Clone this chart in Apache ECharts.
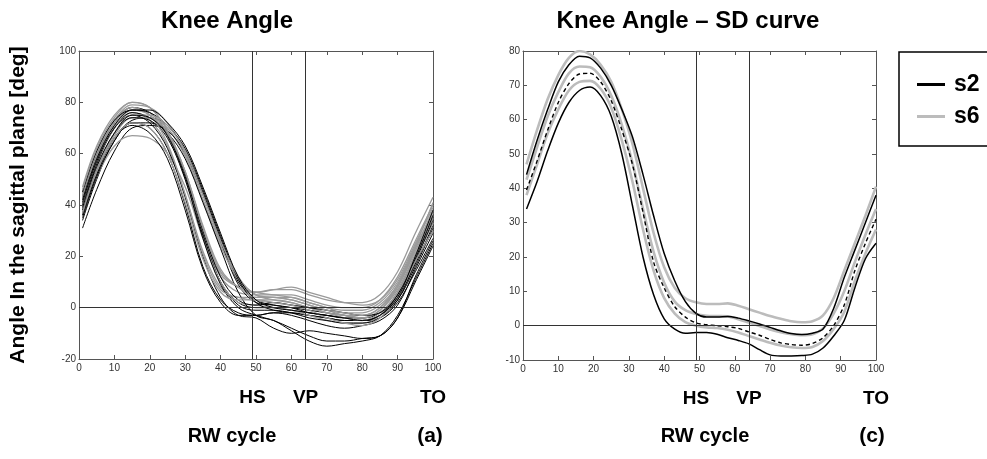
<!DOCTYPE html>
<html>
<head>
<meta charset="utf-8">
<script src="https://cdn.jsdelivr.net/npm/echarts@6/dist/echarts.min.js"></script>
<style>
  html, body { margin: 0; padding: 0; background: #fff; }
  #chart { width: 987px; height: 459px; }
</style>
</head>
<body>
<div id="chart"></div>
<script>
// ---- data ----
// gait events on the RW cycle (%)
const eventLines = [49, 64];
const eventTicks = [49, 64, 100];
const eventNames = ['HS', 'VP', 'TO'];

// (a) single trials, sampled at these cycle points
const xsTrials = [1, 5, 10, 15, 20, 25, 30, 35, 40, 45, 50, 55, 60, 65, 70, 75, 80, 85, 90, 95, 100];

const s2Trials = [
  [34, 50, 65, 72, 70, 60, 40, 16, 3, -2, -3, -2, -2, -3, -4, -5, -5, -3, 5, 18, 30],
  [40, 56, 70, 76, 74, 68, 52, 28, 10, 2, 0, 0, -1, -2, -3, -4, -4, -2, 6, 20, 35],
  [37, 52, 66, 73, 74, 71, 61, 45, 27, 10, 3, 1, 0, -1, -2, -3, -4, -2, 4, 17, 32],
  [43, 59, 72, 78, 76, 68, 52, 29, 10, 1, -1, -1, -2, -3, -4, -5, -5, -3, 3, 16, 31],
  [31, 46, 61, 70, 71, 69, 60, 44, 26, 9, 2, 1, 0, -2, -3, -4, -5, -4, 2, 14, 27],
  [38, 54, 68, 74, 73, 66, 50, 27, 9, 0, -3, -5, -8, -11, -13, -13, -12, -11, -4, 10, 24],
  [35, 51, 65, 72, 72, 68, 58, 41, 23, 6, -3, -5, -9, -13, -15, -14, -13, -11, -3, 11, 25],
  [41, 57, 70, 75, 72, 62, 43, 20, 4, -3, -4, -8, -10, -9, -10, -11, -12, -11, -4, 12, 26],
  [45, 61, 73, 77, 76, 71, 62, 46, 28, 11, 2, -1, -2, -4, -5, -6, -6, -4, 3, 18, 34],
  [39, 55, 68, 75, 74, 67, 51, 30, 12, 3, 1, 2, 1, 0, -1, -2, -3, -2, 5, 19, 36],
  [36, 52, 66, 71, 68, 58, 38, 15, 2, -3, -3, -2, -3, -5, -7, -8, -7, -5, 1, 15, 29],
  [42, 58, 71, 77, 77, 72, 63, 47, 29, 12, 3, 0, -1, -2, -3, -4, -5, -3, 4, 20, 38]
];

const s6Trials = [
  [44, 60, 73, 78, 75, 67, 50, 28, 12, 6, 5, 5, 5, 3, 1, 0, 0, 3, 12, 26, 40],
  [40, 56, 70, 76, 73, 63, 44, 22, 8, 4, 4, 4, 4, 2, 0, -2, -2, 1, 9, 23, 37],
  [47, 63, 75, 80, 78, 69, 53, 31, 14, 8, 6, 7, 7, 5, 3, 2, 2, 5, 14, 29, 43],
  [38, 53, 67, 74, 74, 70, 59, 42, 25, 11, 3, 2, 1, 0, -2, -3, -4, -1, 7, 21, 35],
  [42, 58, 71, 77, 75, 67, 51, 30, 13, 8, 6, 7, 8, 6, 4, 2, 1, 3, 11, 25, 39],
  [36, 51, 63, 67, 66, 60, 47, 27, 10, 2, 1, 0, -1, -3, -5, -6, -6, -3, 6, 19, 33],
  [45, 61, 73, 79, 78, 72, 60, 42, 24, 11, 5, 3, 2, 0, -2, -3, -3, 0, 8, 23, 38],
  [41, 57, 70, 77, 76, 68, 53, 32, 15, 8, 6, 5, 4, 2, 0, -1, -1, 2, 10, 24, 36],
  [43, 59, 72, 78, 75, 64, 44, 21, 7, 4, 3, 3, 2, 0, -2, -4, -5, -2, 6, 20, 33],
  [39, 54, 68, 75, 75, 71, 61, 44, 26, 12, 5, 4, 3, 1, -1, -3, -4, -1, 8, 22, 36],
  [46, 62, 74, 80, 78, 69, 53, 31, 14, 8, 4, 4, 3, 1, -1, -2, -3, 0, 9, 24, 41],
  [37, 53, 66, 72, 70, 60, 41, 19, 6, 3, 3, 2, 1, -1, -4, -6, -7, -4, 4, 18, 30]
];

// (c) mean and +/- SD curves
const xsSD = [1, 4, 7, 10, 13, 16, 19, 22, 25, 28, 31, 34, 37, 40, 43, 46, 49, 52, 55, 58, 61, 64, 67, 70, 73, 76, 79, 82, 85, 88, 91, 94, 97, 100];

const s2Upper = [44, 54, 63, 71, 76, 78.5, 78, 75, 70, 63, 55, 44, 32, 21, 13, 7, 3.6, 2.5, 2.5, 2.7, 2.2, 1.4, 0.5, -0.5, -1.5, -2.3, -2.6, -2.2, -1, 5, 14, 22, 30, 38];
const s2Mean = [39.5, 48, 57, 65, 70.5, 73.3, 73.5, 71, 65.5, 57, 47, 33, 18.5, 11, 5.5, 2.5, 0.8, 0.3, 0, -0.3, -0.8, -1.8, -2.8, -4, -5, -5.5, -5.7, -5.2, -3.5, 0, 6, 16, 24, 31];
const s2Lower = [34, 42, 51, 59, 65, 68.5, 69.5, 67, 61, 50, 35, 20, 9, 2, -1, -2.2, -2, -2, -2.5, -3.5, -4.3, -5.3, -7, -8.5, -8.8, -8.8, -8.7, -8.3, -6.5, -3, 1.5, 11, 19.5, 24];

const s6Upper = [47, 57, 66, 73, 78, 80, 79, 76, 71, 63, 53, 40, 27, 17, 11, 8, 6.8, 6.3, 6.3, 6.5, 5.8, 4.8, 3.8, 2.8, 2, 1.3, 1, 1.3, 3, 8, 16, 24, 32, 40.5];
const s6Mean = [42.5, 52, 61, 68, 73.5, 75.5, 75.3, 72.5, 67, 58.5, 47.5, 34, 21.5, 12.5, 7, 4.5, 3.4, 2.9, 2.8, 2.7, 1.9, 0.9, -0.1, -1.1, -1.9, -2.5, -2.8, -2.5, -0.8, 3.5, 10, 18.5, 26.5, 34];
const s6Lower = [38, 47, 56, 63, 68.5, 71, 71.3, 69, 63.5, 54, 42, 28, 16, 8, 3.5, 1, 0, -0.5, -0.7, -1.2, -2, -3, -4, -5, -5.8, -6.3, -6.5, -6.2, -4.5, -1, 4, 13, 21, 28];

// ---- styles ----
const BLACK = '#000000';
const GRAY_TRIAL = '#9a9a9a';
const GRAY_SD = '#bcbcbc';
const AXIS_COLOR = '#555555';
const LABEL_FONT = "'Liberation Sans', Arial, sans-serif";

function pairs(xs, ys) {
  return xs.map(function (x, i) { return [x, ys[i]]; });
}

function boxAxes(gridIndex, yMin, yMax, yStep, yName) {
  const tickStyle = { inside: true, length: 4, lineStyle: { color: AXIS_COLOR } };
  const lineStyle = { show: true, onZero: false, lineStyle: { color: AXIS_COLOR, width: 1 } };
  const label = { color: '#333', fontSize: 10, fontFamily: LABEL_FONT, margin: 4 };
  const x = [
    { type: 'value', gridIndex: gridIndex, min: 0, max: 100, interval: 10, position: 'bottom',
      axisLine: lineStyle, axisTick: tickStyle, axisLabel: label, splitLine: { show: false } },
    { type: 'value', gridIndex: gridIndex, min: 0, max: 100, interval: 10, position: 'top',
      axisLine: lineStyle, axisTick: tickStyle, axisLabel: { show: false }, splitLine: { show: false } },
    { type: 'value', gridIndex: gridIndex, min: 0, max: 100, position: 'bottom', offset: 29,
      axisLine: { show: false }, axisTick: { show: false }, splitLine: { show: false },
      axisLabel: {
        customValues: eventTicks, margin: 0, color: '#000', fontSize: 19, fontWeight: 'bold',
        fontFamily: LABEL_FONT,
        formatter: function (v) { return eventNames[eventTicks.indexOf(v)] || ''; }
      } }
  ];
  const y = [
    { type: 'value', gridIndex: gridIndex, min: yMin, max: yMax, interval: yStep, position: 'left',
      axisLine: lineStyle, axisTick: tickStyle, axisLabel: Object.assign({}, label, { margin: 3 }),
      splitLine: { show: false },
      name: yName, nameLocation: 'middle', nameGap: 50,
      nameTextStyle: { color: '#000', fontSize: 21, fontWeight: 'bold', fontFamily: LABEL_FONT } },
    { type: 'value', gridIndex: gridIndex, min: yMin, max: yMax, interval: yStep, position: 'right',
      axisLine: lineStyle, axisTick: tickStyle, axisLabel: { show: false }, splitLine: { show: false } }
  ];
  return { x: x, y: y };
}

const leftAxes = boxAxes(0, -20, 100, 20, 'Angle In the sagittal plane [deg]');
const rightAxes = boxAxes(1, -10, 80, 10, '');

function refLines() {
  const data = eventLines.map(function (v) { return { xAxis: v }; });
  data.push({ yAxis: 0 });
  return {
    silent: true, symbol: 'none', animation: false,
    label: { show: false },
    lineStyle: { color: '#333', width: 1, type: 'solid' },
    data: data
  };
}

const series = [];

// (a) trials, gray and black interleaved
for (let i = 0; i < s6Trials.length; i++) {
  series.push({
    type: 'line', name: 's6 trial', xAxisIndex: 0, yAxisIndex: 0, smooth: 0.35,
    symbol: 'none', data: pairs(xsTrials, s6Trials[i]),
    lineStyle: { color: GRAY_TRIAL, width: 1.3 }, z: 2
  });
  series.push({
    type: 'line', name: 's2 trial', xAxisIndex: 0, yAxisIndex: 0, smooth: 0.35,
    symbol: 'none', data: pairs(xsTrials, s2Trials[i]),
    lineStyle: { color: BLACK, width: 1 }, z: 2
  });
}
series[0].markLine = refLines();

// (c) SD curves
const sdCurves = [
  { name: 's6', ys: s6Upper, color: GRAY_SD, width: 2.6, type: 'solid' },
  { name: 's6 mean', ys: s6Mean, color: GRAY_SD, width: 2.6, type: 'solid' },
  { name: 's6 lower', ys: s6Lower, color: GRAY_SD, width: 2.6, type: 'solid' },
  { name: 's2', ys: s2Upper, color: BLACK, width: 1.5, type: 'solid' },
  { name: 's2 mean', ys: s2Mean, color: BLACK, width: 1.4, type: [4, 3] },
  { name: 's2 lower', ys: s2Lower, color: BLACK, width: 1.5, type: 'solid' }
];
sdCurves.forEach(function (c, i) {
  const s = {
    type: 'line', name: c.name, xAxisIndex: 3, yAxisIndex: 2, smooth: 0.3,
    symbol: 'none', data: pairs(xsSD, c.ys), color: c.color,
    lineStyle: { color: c.color, width: c.width, type: c.type }, z: 3
  };
  if (i === 0) s.markLine = refLines();
  series.push(s);
});

function text(str, x, y, font) {
  return {
    type: 'text', x: x, y: y, silent: true,
    style: { text: str, font: font, fill: '#000', textAlign: 'center', textVerticalAlign: 'middle',
      align: 'center', verticalAlign: 'middle' }
  };
}

const option = {
  animation: false,
  backgroundColor: '#ffffff',
  grid: [
    { left: 79, top: 51, width: 354, height: 308, show: false },
    { left: 523, top: 51, width: 353, height: 309, show: false }
  ],
  xAxis: leftAxes.x.concat(rightAxes.x),
  yAxis: leftAxes.y.concat(rightAxes.y),
  legend: {
    data: ['s2', 's6'],
    orient: 'vertical',
    left: 899, top: 52,
    padding: [21, 40, 18, 18],
    itemGap: 9,
    icon: 'rect',
    itemWidth: 28, itemHeight: 3,
    borderColor: '#000', borderWidth: 1.5, borderRadius: 0,
    backgroundColor: '#fff',
    selectedMode: false,
    textStyle: { color: '#000', fontSize: 23, fontWeight: 'bold', fontFamily: LABEL_FONT, padding: [0, 0, 0, 4] }
  },
  graphic: [
    text('Knee Angle', 227, 21, 'bold 24px ' + LABEL_FONT),
    text('Knee Angle \u2013 SD curve', 688, 21, 'bold 24px ' + LABEL_FONT),
    text('RW cycle', 232, 436, 'bold 20px ' + LABEL_FONT),
    text('RW cycle', 705, 436, 'bold 20px ' + LABEL_FONT),
    text('(a)', 430, 436, 'bold 21px ' + LABEL_FONT),
    text('(c)', 872, 436, 'bold 21px ' + LABEL_FONT)
  ],
  series: series
};

const chart = echarts.init(document.getElementById('chart'), null, { renderer: 'canvas' });
chart.setOption(option);
</script>
</body>
</html>
